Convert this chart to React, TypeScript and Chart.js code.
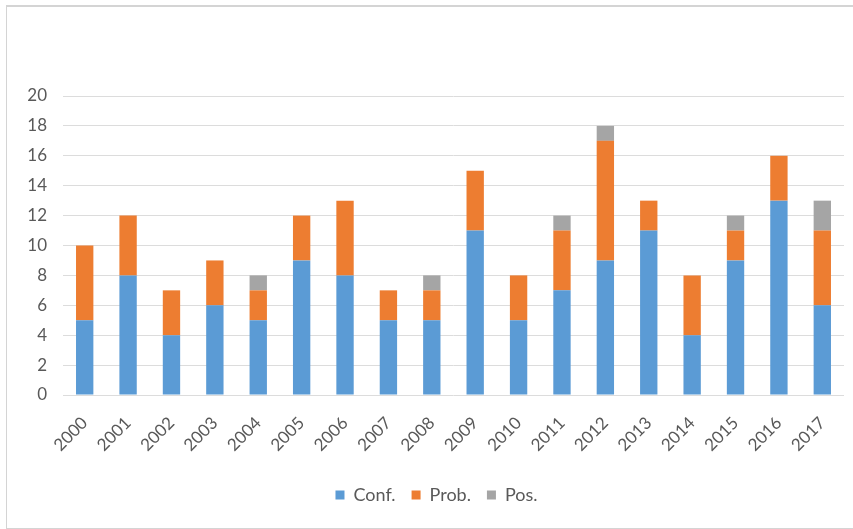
import { useEffect, useRef } from "react";
import { Chart, registerables } from "chart.js";

Chart.register(...registerables);

const years = [
  "2000", "2001", "2002", "2003", "2004", "2005", "2006", "2007", "2008",
  "2009", "2010", "2011", "2012", "2013", "2014", "2015", "2016", "2017",
];
const conf = [5, 8, 4, 6, 5, 9, 8, 5, 5, 11, 5, 7, 9, 11, 4, 9, 13, 6];
const prob = [5, 4, 3, 3, 2, 3, 5, 2, 2, 4, 3, 4, 8, 2, 4, 2, 3, 5];
const pos = [0, 0, 0, 0, 1, 0, 0, 0, 1, 0, 0, 1, 1, 0, 0, 1, 0, 2];
const yMax = 20;
const yStep = 2;

const FONT = "Lato, 'Open Sans', sans-serif";
const TEXT = "#595959";

// Centre the legend under the plot area rather than the whole canvas.
const legendShift = {
  id: "legendShift",
  afterUpdate(chart: any) {
    const lg = chart.legend;
    if (!lg) return;
    const area = chart.chartArea;
    const mid = (area.left + area.right) / 2;
    const cur = (lg.left + lg.right) / 2;
    const d = mid - cur - 17;
    lg.left += d;
    lg.right += d;
  },
};

export default function App() {
  const ref = useRef<HTMLCanvasElement | null>(null);

  useEffect(() => {
    document.body.style.margin = "0";
    const canvas = ref.current;
    if (!canvas) return;
    const chart = new Chart(canvas, {
      type: "bar",
      data: {
        labels: years,
        datasets: [
          { label: "Conf.", data: conf, backgroundColor: "#5B9BD5" },
          { label: "Prob.", data: prob, backgroundColor: "#ED7D31" },
          { label: "Pos.", data: pos, backgroundColor: "#A5A5A5" },
        ],
      },
      plugins: [legendShift],
      options: {
        responsive: false,
        animation: false,
        layout: { padding: { top: 96, right: 9, bottom: 15, left: 0 } },
        datasets: {
          bar: { categoryPercentage: 1, barPercentage: 0.4 },
        },
        plugins: {
          tooltip: { enabled: false },
          legend: {
            position: "bottom",
            labels: {
              boxWidth: 9,
              boxHeight: 9,
              padding: 16,
              color: TEXT,
              font: { family: FONT, size: 18 },
            },
          },
        },
        scales: {
          x: {
            stacked: true,
            grid: { display: false },
            border: { display: false },
            ticks: {
              color: TEXT,
              font: { family: FONT, size: 17 },
              minRotation: 45,
              maxRotation: 45,
              padding: 10,
            },
            afterFit: (s: any) => {
              s.height = 75;
            },
          },
          y: {
            stacked: true,
            min: 0,
            max: yMax,
            grid: { color: "#DCDCDC", lineWidth: 1, drawTicks: false },
            border: { display: false },
            ticks: {
              stepSize: yStep,
              color: TEXT,
              font: { family: FONT, size: 17 },
              padding: 16,
            },
            afterFit: (s: any) => {
              s.width = 63;
            },
          },
        },
      },
    });
    return () => chart.destroy();
  }, []);

  return (
    <div style={{ position: "relative", width: 853, height: 529, overflow: "hidden", background: "#fff" }}>
      <div
        style={{
          position: "absolute",
          left: 6,
          top: 5,
          width: 900,
          height: 521,
          border: "1px solid #D4D4D4",
          borderTopWidth: 2,
        }}
      />
      <canvas ref={ref} width={853} height={529} style={{ position: "absolute", left: 0, top: 0 }} />
    </div>
  );
}
